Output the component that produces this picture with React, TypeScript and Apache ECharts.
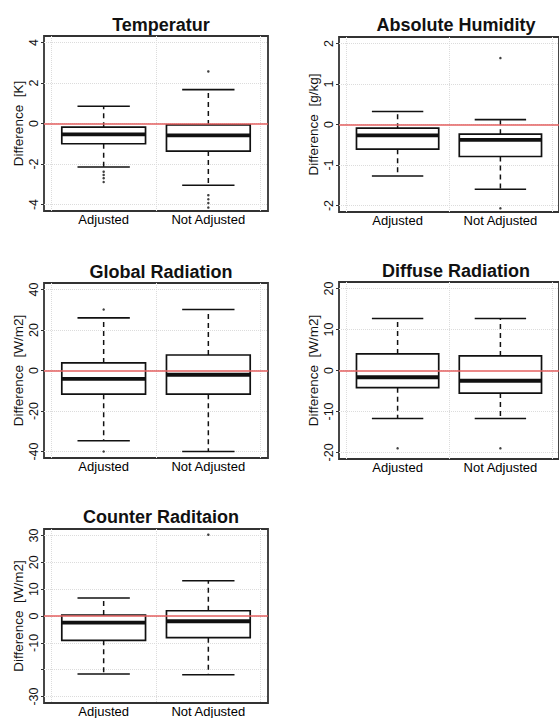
import React, { useEffect, useRef } from "react";
import * as echarts from "echarts";

// ---- data ----
const categories = ["Adjusted", "Not Adjusted"];

// [lower whisker, Q1, median, Q3, upper whisker]
const tempAdjusted = [-2.15, -1.0, -0.54, -0.18, 0.85];
const tempNotAdjusted = [-3.05, -1.36, -0.59, -0.07, 1.67];
const tempOutAdjusted = [-2.38, -2.54, -2.7, -2.89];
const tempOutNotAdjusted = [2.57, -3.54, -3.74, -3.93, -4.15];

const humAdjusted = [-1.27, -0.61, -0.27, -0.09, 0.32];
const humNotAdjusted = [-1.6, -0.79, -0.38, -0.24, 0.12];
const humOutAdjusted: number[] = [];
const humOutNotAdjusted = [1.64, -2.07];

const globAdjusted = [-34.7, -11.7, -4.1, 3.75, 26];
const globNotAdjusted = [-40, -11.7, -2.1, 7.65, 30.1];
const globOutAdjusted = [30.1, -40];
const globOutNotAdjusted: number[] = [];

const diffAdjusted = [-11.7, -4.2, -1.65, 4.05, 12.7];
const diffNotAdjusted = [-11.7, -5.5, -2.5, 3.55, 12.7];
const diffOutAdjusted = [-19];
const diffOutNotAdjusted = [-19];

const cntAdjusted = [-21.6, -9.05, -2.45, 0.37, 6.7];
const cntNotAdjusted = [-21.9, -8.07, -1.96, 1.96, 13.1];
const cntOutAdjusted: number[] = [];
const cntOutNotAdjusted = [30.3];

const titles = [
  "Temperatur",
  "Absolute Humidity",
  "Global Radiation",
  "Diffuse Radiation",
  "Counter Raditaion",
];
const yNames = [
  "Difference\u00a0\u00a0[K]",
  "Difference\u00a0\u00a0[g/kg]",
  "Difference\u00a0\u00a0[W/m2]",
  "Difference\u00a0\u00a0[W/m2]",
  "Difference\u00a0\u00a0[W/m2]",
];
const yTicks = [
  [-4, -2, 0, 2, 4],
  [-2, -1, 0, 1, 2],
  [-40, -20, 0, 20, 40],
  [-20, -10, 0, 10, 20],
  [-30, -20, -10, 0, 10, 20, 30],
];
const yLabels = [
  [-4, -2, 0, 2, 4],
  [-2, -1, 0, 1, 2],
  [-40, -20, 0, 20, 40],
  [-20, -10, 0, 10, 20],
  [-30, -10, 0, 10, 20, 30],
];
const yLimits = [4, 2, 40, 20, 30];

const boxStats = [
  [tempAdjusted, tempNotAdjusted],
  [humAdjusted, humNotAdjusted],
  [globAdjusted, globNotAdjusted],
  [diffAdjusted, diffNotAdjusted],
  [cntAdjusted, cntNotAdjusted],
];
const outliers = [
  [tempOutAdjusted, tempOutNotAdjusted],
  [humOutAdjusted, humOutNotAdjusted],
  [globOutAdjusted, globOutNotAdjusted],
  [diffOutAdjusted, diffOutNotAdjusted],
  [cntOutAdjusted, cntOutNotAdjusted],
];

// ---- layout ----
const grids = [
  { left: 44, top: 36, width: 224, height: 175 },
  { left: 339, top: 37, width: 224, height: 175 },
  { left: 44, top: 283, width: 224, height: 175 },
  { left: 339, top: 282, width: 224, height: 177 },
  { left: 44, top: 529, width: 224, height: 174 },
];
const titleY = [20, 20, 267, 266, 512];

const FONT = "Liberation Sans, Arial, sans-serif";

export default function App() {
  const ref = useRef<HTMLDivElement>(null);
  useEffect(() => {
    if (!ref.current) return;
    const chart = echarts.init(ref.current, undefined, { renderer: "svg" });

    const renderBox = (params: any, api: any) => {
      const x = api.value(0);
      const lo = api.value(1);
      const q1 = api.value(2);
      const med = api.value(3);
      const q3 = api.value(4);
      const hi = api.value(5);
      const c = (xv: number, yv: number) => api.coord([xv, yv]);
      const pLo = c(x, lo);
      const pHi = c(x, hi);
      const pQ1 = c(x, q1);
      const pQ3 = c(x, q3);
      const bl = c(x - 0.4, q3);
      const br = c(x + 0.4, q1);
      const ml = c(x - 0.4, med);
      const mr = c(x + 0.4, med);
      const capL = c(x - 0.25, hi);
      const capR = c(x + 0.25, hi);
      const capLl = c(x - 0.25, lo);
      const capRl = c(x + 0.25, lo);
      const stroke = "#111";
      return {
        type: "group",
        children: [
          {
            type: "line",
            shape: { x1: pQ3[0], y1: pQ3[1], x2: pHi[0], y2: pHi[1] },
            style: { stroke, lineWidth: 1.5, lineDash: [5, 4] },
          },
          {
            type: "line",
            shape: { x1: pQ1[0], y1: pQ1[1], x2: pLo[0], y2: pLo[1] },
            style: { stroke, lineWidth: 1.5, lineDash: [5, 4] },
          },
          {
            type: "line",
            shape: { x1: capL[0], y1: capL[1], x2: capR[0], y2: capR[1] },
            style: { stroke, lineWidth: 1.6 },
          },
          {
            type: "line",
            shape: { x1: capLl[0], y1: capLl[1], x2: capRl[0], y2: capRl[1] },
            style: { stroke, lineWidth: 1.6 },
          },
          {
            type: "rect",
            shape: { x: bl[0], y: bl[1], width: br[0] - bl[0], height: br[1] - bl[1] },
            style: { fill: "#fff", stroke, lineWidth: 1.7 },
          },
          {
            type: "line",
            shape: { x1: ml[0], y1: ml[1], x2: mr[0], y2: mr[1] },
            style: { stroke, lineWidth: 3.8 },
          },
        ],
      };
    };

    const grid: any[] = [];
    const xAxis: any[] = [];
    const yAxis: any[] = [];
    const series: any[] = [];
    const title: any[] = [];

    grids.forEach((g, i) => {
      grid.push({
        ...g,
        show: true,
        borderColor: "#333",
        borderWidth: 1.8,
        backgroundColor: "#fff",
      });
      title.push({
        text: titles[i],
        left: g.left + g.width / 2,
        top: titleY[i],
        textAlign: "center",
        textVerticalAlign: "middle",
        textStyle: { fontFamily: FONT, fontSize: 18, fontWeight: "bold", color: "#111" },
      });
      xAxis.push({
        type: "value",
        gridIndex: i,
        min: 0.43,
        max: 2.57,
        axisLine: { show: false },
        axisTick: { show: false, customValues: [0.5, 1.5, 2.5] },
        axisLabel: {
          customValues: [1, 2],
          formatter: (v: number) => categories[Math.round(v) - 1],
          fontFamily: FONT,
          fontSize: 13,
          color: "#000",
          margin: 2,
        },
        splitLine: { show: true, lineStyle: { color: "#dcdcdc", type: "dotted", width: 1 } },
      });
      const lim = yLimits[i] * 1.08;
      yAxis.push({
        type: "value",
        gridIndex: i,
        min: -lim,
        max: lim,
        name: yNames[i],
        nameLocation: "middle",
        nameRotate: 90,
        nameGap: 19,
        nameTextStyle: { fontFamily: FONT, fontSize: 13.5, color: "#111" },
        axisLine: { show: false },
        axisTick: {
          show: true,
          length: 3,
          customValues: yTicks[i],
          lineStyle: { color: "#333", width: 1 },
        },
        axisLabel: {
          customValues: yLabels[i],
          rotate: 90,
          margin: 4,
          fontFamily: FONT,
          fontSize: 12.5,
          color: "#111",
        },
        splitLine: { show: true, lineStyle: { color: "#dcdcdc", type: "dotted", width: 1 } },
      });
      series.push({
        type: "custom",
        xAxisIndex: i,
        yAxisIndex: i,
        renderItem: renderBox,
        encode: { x: 0, y: [1, 2, 3, 4, 5] },
        data: boxStats[i].map((s, k) => [k + 1, ...s]),
        clip: false,
        z: 3,
      });
      const pts: number[][] = [];
      outliers[i].forEach((arr, k) => arr.forEach((v) => pts.push([k + 1, v])));
      series.push({
        type: "scatter",
        xAxisIndex: i,
        yAxisIndex: i,
        data: pts,
        symbol: "circle",
        symbolSize: 2.5,
        itemStyle: { color: "#111" },
        z: 4,
        markLine: {
          silent: true,
          symbol: "none",
          label: { show: false },
          lineStyle: { color: "#e46060", width: 1.6, type: "solid" },
          data: [{ yAxis: 0 }],
        },
      });
    });

    chart.setOption({
      animation: false,
      backgroundColor: "#fff",
      title,
      grid,
      xAxis,
      yAxis,
      series,
    });
    return () => chart.dispose();
  }, []);

  return (
    <div
      ref={ref}
      style={{ position: "fixed", left: 0, top: 0, width: 559, height: 718 }}
    />
  );
}
